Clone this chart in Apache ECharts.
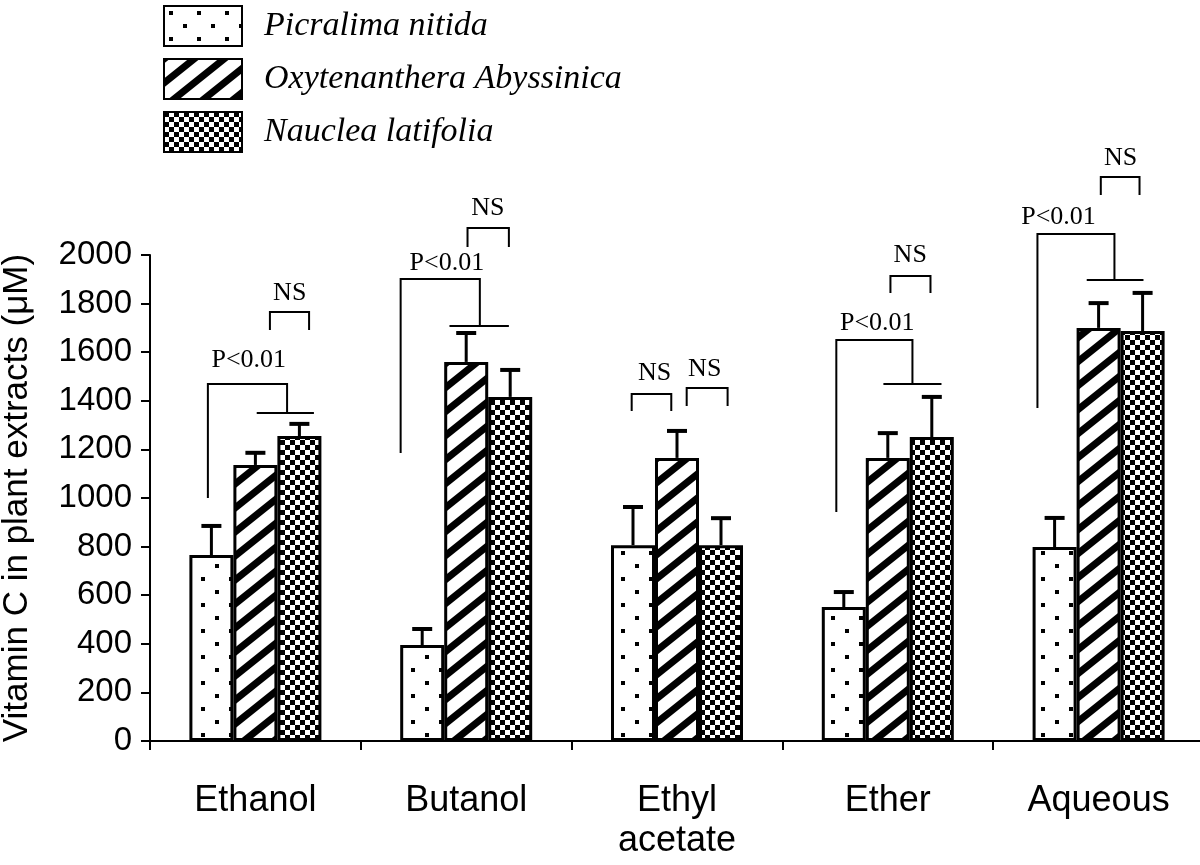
<!DOCTYPE html>
<html>
<head>
<meta charset="utf-8">
<script src="https://cdn.jsdelivr.net/npm/echarts@6/dist/echarts.min.js"></script>
<style>
html,body{margin:0;padding:0;background:#fff;}
#chart{width:1200px;height:865px;}
</style>
</head>
<body>
<div id="chart"></div>
<script>
// ---------------- DATA ----------------
const categories = ['Ethanol', 'Butanol', 'Ethyl\nacetate', 'Ether', 'Aqueous'];
const seriesNames = ['Picralima nitida', 'Oxytenanthera Abyssinica', 'Nauclea latifolia'];
const picralima = [765, 395, 806, 551, 798];
const picralimaErr = [120, 66, 157, 62, 120];
const oxytenanthera = [1136, 1560, 1165, 1165, 1700];
const oxytenantheraErr = [50, 119, 111, 102, 102];
const nauclea = [1255, 1416, 806, 1251, 1687];
const naucleaErr = [50, 111, 111, 165, 157];
const yTicks = { min: 0, max: 2000, interval: 200 };
const yTitle = 'Vitamin C in plant extracts (\u03bcM)';

// Significance brackets "P<0.01":
// [category, left offset, right offset, top value, left foot value, right foot value, line left, line right, label offset, label value]
const pBrackets = [
  [0, -1.08, 0.72, 1469, 1000, 1350, 0.03, 1.33, -0.15, 1568],
  [1, -1.49, 0.31, 1901, 1185, 1708, -0.38, 0.97, -0.44, 1967],
  [3, -1.17, 0.56, 1650, 942, 1469, -0.10, 1.22, -0.24, 1720],
  [4, -1.39, 0.36, 2086, 1370, 1897, -0.27, 1.02, -0.91, 2156]
];
// "NS" brackets: [category, left offset, right offset, top value, foot value, label offset, label value]
const nsBrackets = [
  [0, 0.33, 1.22, 1765, 1691, 0.78, 1844],
  [1, 0.03, 0.97, 2111, 2033, 0.49, 2193],
  [2, -1.03, -0.13, 1428, 1358, -0.51, 1514],
  [2, 0.22, 1.15, 1453, 1379, 0.63, 1531],
  [3, 0.06, 0.97, 1914, 1844, 0.51, 2000],
  [4, 0.05, 0.93, 2321, 2247, 0.50, 2399]
];

// ---------------- STYLE ----------------
const BW = 44; // bar width in px
function tile(w, h, draw) {
  const c = document.createElement('canvas');
  c.width = w; c.height = h;
  const ctx = c.getContext('2d');
  ctx.fillStyle = '#fff';
  ctx.fillRect(0, 0, w, h);
  ctx.fillStyle = '#000';
  ctx.strokeStyle = '#000';
  draw(ctx, w, h);
  return { image: c, repeat: 'repeat' };
}
const dotPattern = tile(28, 26, (ctx) => {
  ctx.fillRect(5, 5, 4, 4);
  ctx.fillRect(19, 18, 4, 4);
});
const stripePattern = tile(30, 24, (ctx, w, h) => {
  ctx.lineWidth = 7;
  ctx.lineCap = 'butt';
  for (let x0 = -w; x0 <= w; x0 += w) {
    ctx.beginPath();
    ctx.moveTo(x0 - w * 0.2, h + h * 0.2);
    ctx.lineTo(x0 + w * 1.2, -h * 0.2);
    ctx.stroke();
  }
});
const checkPattern = tile(10, 10, (ctx) => {
  ctx.fillRect(0, 0, 5, 5);
  ctx.fillRect(5, 5, 5, 5);
});
const patterns = [dotPattern, stripePattern, checkPattern];
const values = [picralima, oxytenanthera, nauclea];
const errors = [picralimaErr, oxytenantheraErr, naucleaErr];

const chart = echarts.init(document.getElementById('chart'), null, { renderer: 'canvas' });

const barSeries = values.map((vals, i) => ({
  name: seriesNames[i],
  type: 'bar',
  data: vals,
  barWidth: BW,
  barGap: '0%',
  itemStyle: { color: patterns[i], borderColor: '#000', borderWidth: 3 },
  emphasis: { disabled: true },
  z: 2
}));

const errSeries = errors.map((errs, i) => ({
  type: 'custom',
  data: errs.map((e, k) => [k, values[i][k], e]),
  z: 5,
  silent: true,
  renderItem: function (params, api) {
    const base = api.coord([api.value(0), api.value(1)]);
    const top = api.coord([api.value(0), api.value(1) + api.value(2)]);
    const x = base[0] + (i - 1) * BW;
    return {
      type: 'group',
      children: [
        { type: 'line', shape: { x1: x, y1: base[1], x2: x, y2: top[1] }, style: { stroke: '#000', lineWidth: 3 } },
        { type: 'line', shape: { x1: x - 10, y1: top[1], x2: x + 10, y2: top[1] }, style: { stroke: '#000', lineWidth: 4 } }
      ]
    };
  }
}));

const labelFont = '26px "Liberation Serif", "Times New Roman", serif';

const pSeries = {
  type: 'custom',
  data: pBrackets,
  z: 6,
  silent: true,
  clip: false,
  renderItem: function (params, api) {
    const cx = api.coord([api.value(0), 0])[0];
    const X = (o) => cx + o * BW;
    const Y = (v) => api.coord([api.value(0), v])[1];
    const yTop = Y(api.value(3)), yL = Y(api.value(4)), yR = Y(api.value(5));
    return {
      type: 'group',
      children: [
        { type: 'polyline', shape: { points: [[X(api.value(1)), yL], [X(api.value(1)), yTop], [X(api.value(2)), yTop], [X(api.value(2)), yR]] },
          style: { stroke: '#000', lineWidth: 2, fill: null } },
        { type: 'line', shape: { x1: X(api.value(6)), y1: yR, x2: X(api.value(7)), y2: yR }, style: { stroke: '#000', lineWidth: 2 } },
        { type: 'text', x: X(api.value(8)), y: Y(api.value(9)),
          style: { text: 'P<0.01', font: labelFont, fill: '#000', align: 'center', verticalAlign: 'middle' } }
      ]
    };
  }
};

const nsSeries = {
  type: 'custom',
  data: nsBrackets,
  z: 6,
  silent: true,
  clip: false,
  renderItem: function (params, api) {
    const cx = api.coord([api.value(0), 0])[0];
    const X = (o) => cx + o * BW;
    const Y = (v) => api.coord([api.value(0), v])[1];
    const yTop = Y(api.value(3)), yF = Y(api.value(4));
    return {
      type: 'group',
      children: [
        { type: 'polyline', shape: { points: [[X(api.value(1)), yF], [X(api.value(1)), yTop], [X(api.value(2)), yTop], [X(api.value(2)), yF]] },
          style: { stroke: '#000', lineWidth: 2, fill: null } },
        { type: 'text', x: X(api.value(5)), y: Y(api.value(6)),
          style: { text: 'NS', font: labelFont, fill: '#000', align: 'center', verticalAlign: 'middle' } }
      ]
    };
  }
};

const option = {
  backgroundColor: '#fff',
  animation: false,
  grid: { left: 150, right: -4, top: 255, bottom: 124, containLabel: false, outerBoundsMode: 'none' },
  legend: {
    data: seriesNames,
    orient: 'vertical',
    left: 163,
    top: 4,
    padding: 0,
    itemWidth: 78,
    itemHeight: 40,
    itemGap: 9,
    icon: 'rect',
    selectedMode: false,
    textStyle: {
      fontFamily: '"Liberation Serif", "Times New Roman", serif',
      fontStyle: 'italic',
      fontSize: 34,
      lineHeight: 40,
      color: '#000',
      padding: [4, 0, 0, 17]
    }
  },
  xAxis: {
    type: 'category',
    data: categories,
    boundaryGap: true,
    axisLine: { show: true, lineStyle: { color: '#000', width: 2 } },
    axisTick: { show: true, alignWithLabel: false, length: 9, lineStyle: { color: '#000', width: 2 } },
    axisLabel: {
      margin: 40,
      color: '#000',
      fontFamily: '"Liberation Sans", Arial, sans-serif',
      fontSize: 36,
      lineHeight: 40,
      interval: 0
    },
    splitLine: { show: false }
  },
  yAxis: {
    type: 'value',
    min: yTicks.min,
    max: yTicks.max,
    interval: yTicks.interval,
    name: yTitle,
    nameLocation: 'middle',
    nameGap: 115,
    nameTextStyle: {
      fontFamily: '"Liberation Sans", Arial, sans-serif',
      fontSize: 35,
      color: '#000'
    },
    axisLine: { show: true, lineStyle: { color: '#000', width: 2 } },
    axisTick: { show: true, length: 9, lineStyle: { color: '#000', width: 2 } },
    axisLabel: {
      margin: 18,
      color: '#000',
      fontFamily: '"Liberation Sans", Arial, sans-serif',
      fontSize: 33,
      formatter: (v) => String(v)
    },
    splitLine: { show: false }
  },
  series: [...barSeries, ...errSeries, pSeries, nsSeries]
};
chart.setOption(option);
</script>
</body>
</html>
